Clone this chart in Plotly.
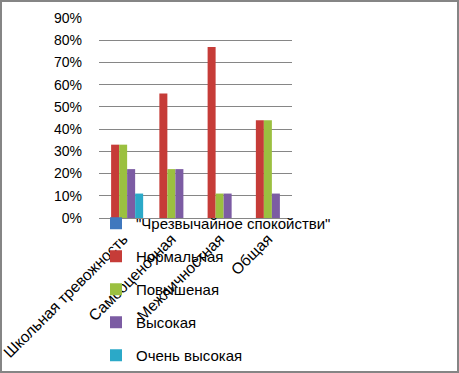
import plotly.graph_objects as go

categories = ["Школьная тревожность", "Самооценочная", "Межличностная", "Общая"]
series_names = ["\"Чрезвычайное спокойстви\"", "Нормальная", "Повышеная", "Высокая", "Очень высокая"]
calm = [0, 0, 0, 0]
normal = [33, 56, 77, 44]
raised = [33, 22, 11, 44]
high = [22, 22, 11, 11]
very_high = [11, 0, 0, 0]
tick_vals = [0, 10, 20, 30, 40, 50, 60, 70, 80, 90]
tick_text = ["0%", "10%", "20%", "30%", "40%", "50%", "60%", "70%", "80%", "90%"]

colors = ["#3F78BE", "#C63C38", "#9BC040", "#7C5CA3", "#2BA9C8"]
series = [calm, normal, raised, high, very_high]

FONT = "Liberation Sans"
fig = go.Figure()
for i, (name, vals) in enumerate(zip(series_names, series)):
    fig.add_trace(go.Bar(
        x=categories, y=vals, name=name,
        marker=dict(color=colors[i], line=dict(width=0)),
        legendgroup=f"g{i}",
    ))

W, H = 459, 373
l, r, t, b = 99, 167, 18, 155
pw, ph = W - l - r, H - t - b

def px_x(px):
    return (px - l) / pw

def px_y(py):
    return (H - b - py) / ph

fig.update_layout(
    width=W, height=H,
    margin=dict(l=l, r=r, t=t, b=b, pad=0, autoexpand=False),
    paper_bgcolor="white", plot_bgcolor="white",
    barmode="group", bargap=0.17, bargroupgap=0,
    font=dict(family=FONT, size=14, color="#000000"),
    showlegend=True,
    legend=dict(
        x=px_x(96), y=px_y(207), xanchor="left", yanchor="top",
        bgcolor="rgba(0,0,0,0)", font=dict(family=FONT, size=15),
        tracegroupgap=10.5, itemwidth=30, maxheight=400,
    ),
    xaxis=dict(
        tickangle=-45, showline=False, showgrid=False, ticks="", automargin=False,
        tickfont=dict(family=FONT, size=15.5), ticklabelstandoff=8,
    ),
    yaxis=dict(
        range=[0, 90], tickvals=tick_vals, ticktext=tick_text, automargin=False,
        showgrid=True, gridcolor="#868686", gridwidth=1,
        zeroline=True, zerolinecolor="#868686", zerolinewidth=1,
        showline=False, ticks="", ticklabelstandoff=16,
        tickfont=dict(family=FONT, size=14),
    ),
    shapes=[dict(
        type="rect", xref="paper", yref="paper",
        x0=px_x(1), x1=px_x(458), y0=px_y(372), y1=px_y(1),
        line=dict(color="#858585", width=2), fillcolor="rgba(0,0,0,0)", layer="above",
    )],
)

fig.write_html(
    "out.html",
    config={"displayModeBar": False},
    post_script="document.body.style.margin='0';document.body.style.overflow='hidden';",
)
